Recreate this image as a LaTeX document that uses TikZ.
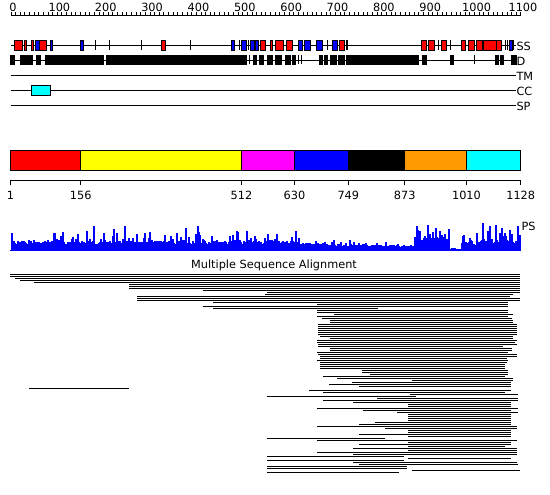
\documentclass[tikz,border=0pt]{standalone}
\usepackage{fontspec}
\setmainfont{DejaVu Sans}
\definecolor{orng}{RGB}{255,155,0}
\definecolor{cyn}{RGB}{0,255,255}
\definecolor{mgt}{RGB}{255,0,255}
\definecolor{ylw}{RGB}{255,255,0}
\definecolor{rd}{RGB}{255,0,0}
\definecolor{bl}{RGB}{0,0,255}
\begin{document}
\begin{tikzpicture}[x=1pt,y=-1pt,line width=1pt,
  lab/.style={font=\fontsize{11.3}{12}\selectfont, inner sep=0pt},
  ssred/.style={fill=rd,draw=black,line width=1pt},
  ssblue/.style={fill=bl,draw=black,line width=1pt},
  dbox/.style={fill=black,draw=black,line width=0.6pt},
  segbox/.style={draw=black,line width=1pt},
  msaline/.style={line width=1pt}]
\useasboundingbox[fill=white] (0,0) rectangle (550,495);

% ---- ruler ----
\draw (11,15.5) -- (521,15.5);
\foreach \i in {0,...,110} \draw ({11+\i*4.636},15.5) -- ++(0,-3);
\foreach \i in {0,...,11}{
  \pgfmathtruncatemacro{\v}{\i*100}
  \node[lab,anchor=base] (r\i) at ({11+\i*46.36+2},12) {\v};
}

% ---- tracks ----
\draw (11,45.5) -- (516,45.5);
\draw (11,60.5) -- (516,60.5);
\draw (11,75.5) -- (516,75.5);
\draw (11,90.5) -- (516,90.5);
\draw (11,105.5) -- (516,105.5);
\node[lab,anchor=west] (lss) at (516,46) {SS};
\node[lab,anchor=west] (ld) at (516,61) {D};
\node[lab,anchor=west] (ltm) at (516,76) {TM};
\node[lab,anchor=west] (lcc) at (516,91) {CC};
\node[lab,anchor=west] (lsp) at (516,106) {SP};

% SS
\foreach \a/\b in {14/22.7,24.3/26.7,31/33.3,39.3/46,161/165,260/265.7,270/272,275/283,286/292,339/344,421/426,428/434,441/446,461/465,468.5/474,476/482,483/496,496/501}
  \draw[ssred] (\a,40.5) rectangle (\b,50.5);
\foreach \a/\b in {35.3/39.3,50/52.3,80.7/83.3,231/234,241.7/246.7,250/254.3,255/258.3,298/302,304/310,316/322,332/337,509/512}
  \draw[ssblue] (\a,40.5) rectangle (\b,50.5);
\foreach \x in {95,109,141.7,190,239,248.7,327,346,347.5,438,450,505,507,513.5}
  \draw (\x,40.5) -- (\x,50.5);

% D
\foreach \a/\b in {10/14,20.5/32.5,36.5/40,45.5/103,106/188,189/246.5,253/256.5,259/263,267/272,275/281.5,285/290,292.5/295,319/322.5,324.5/327,330/336.5,338/340.5,341.5/344.5,346/418,422.5/426.5,450/453,495/498,500/503,511.5/516}
  \draw[dbox] (\a,55.5) rectangle (\b,64.5);
\foreach \x in {249.5,298,301,474}
  \draw (\x,55.5) -- (\x,64.5);

% CC
\draw[fill=cyn] (31,86) rectangle (50.5,95.5);

% ---- domain bar ----
\draw[segbox,fill=rd] (10.5,150.5) rectangle (80.7,170.5);
\draw[segbox,fill=ylw] (80.7,150.5) rectangle (241.5,170.5);
\draw[segbox,fill=mgt] (241.5,150.5) rectangle (294.5,170.5);
\draw[segbox,fill=bl] (294.5,150.5) rectangle (348.3,170.5);
\draw[segbox,fill=black] (348.3,150.5) rectangle (404.7,170.5);
\draw[segbox,fill=orng] (404.7,150.5) rectangle (466.5,170.5);
\draw[segbox,fill=cyn] (466.5,150.5) rectangle (520.7,170.5);
\draw (10.5,180.5) -- (520.7,180.5);
\foreach \x/\t [count=\k] in {10.5/1,80.7/156,241.5/512,294.5/630,348.3/749,404.7/873,466.5/1010,520.7/1128}{
  \draw (\x,180.5) -- (\x,185);
  \node[lab,anchor=base] (b\k) at (\x,199.5) {\t};
}

% ---- PS profile ----
\pgfmathsetseed{11}
\foreach \x in {12,...,520}{
  \pgfmathsetmacro{\h}{(\x<300) ? (6+4*rnd+13*rnd^7) : ((\x<415) ? (5.5-2.5*(\x-300)/115+2*rnd+5*rnd^8) : ((\x<450) ? (6+9*rnd+10*rnd^3) : ((\x<462) ? (1+1.5*rnd) : (5+7*rnd+12*rnd^5))))}
  \fill[bl] (\x-0.55,250.5) rectangle (\x+0.55,{250.5-\h});
}
\foreach \x/\h in {55/16,61/14,94/24,117/17,125/24,145/17,177/17,198/24,238/18,268/16,418/20,428/25,433/18,436/22,440/19,483/27,490/24,496/25,502/22,510/20,518/24}
  \fill[bl] (\x-0.6,250.5) rectangle (\x+0.6,250.5-\h);
\draw[bl] (10,250.5) -- (521,250.5);
\node[lab,anchor=west] (lps) at (521,226) {PS};

% ---- MSA ----
\node[lab,anchor=base] (msa) at (274,268.5) {Multiple Sequence Alignment};
\foreach \y/\a/\b in {274/10/520,276/10/520,278/15/520,280/20/520,282/34/520,284/129/520,286/129/520,288/129/520,290/203/520,292/267/520,294/265/513,296/137/510,298/137/520,300/137/520,302/213/508,304/317/508,306/203/508,308/213/378,310/317/508,312/317/508,314/334/513,316/317/508,318/322/512,320/330/513,322/330/513,324/318/517,326/318/517,328/318/517,330/318/517,332/318/517,334/318/517,336/320/513,338/330/513,340/317/517,342/317/515,344/318/517,346/318/503,348/330/512,350/330/512,352/317/508,354/318/517,356/320/517,358/320/507,360/317/508,362/320/507,364/320/505,366/320/505,368/320/505,370/362/508,372/362/508,374/370/508,376/323/505,378/337/513,380/412/513,382/352/511,384/329/511,386/359/511,388/29/129,390/309/511,392/323/505,394/410/518,396/267/416,398/377/518,400/323/518,402/353/511,404/408/511,406/408/511,408/317/518,410/363/511,412/397/518,414/408/511,416/408/511,418/408/511,420/408/511,422/375/511,424/359/511,426/317/517,428/385/517,430/408/511,432/408/511,434/359/511,436/408/511,438/267/385,440/317/517,442/408/511,444/359/511,446/408/505,448/353/517,450/408/517,452/317/517,454/353/517,456/267/404,458/408/511,460/267/404,462/353/517,464/359/518,466/267/407,468/267/407,470/412/520,472/267/399}
  \draw[msaline] (\a,\y+0.5) -- (\b,\y+0.5);
\end{tikzpicture}
\end{document}
